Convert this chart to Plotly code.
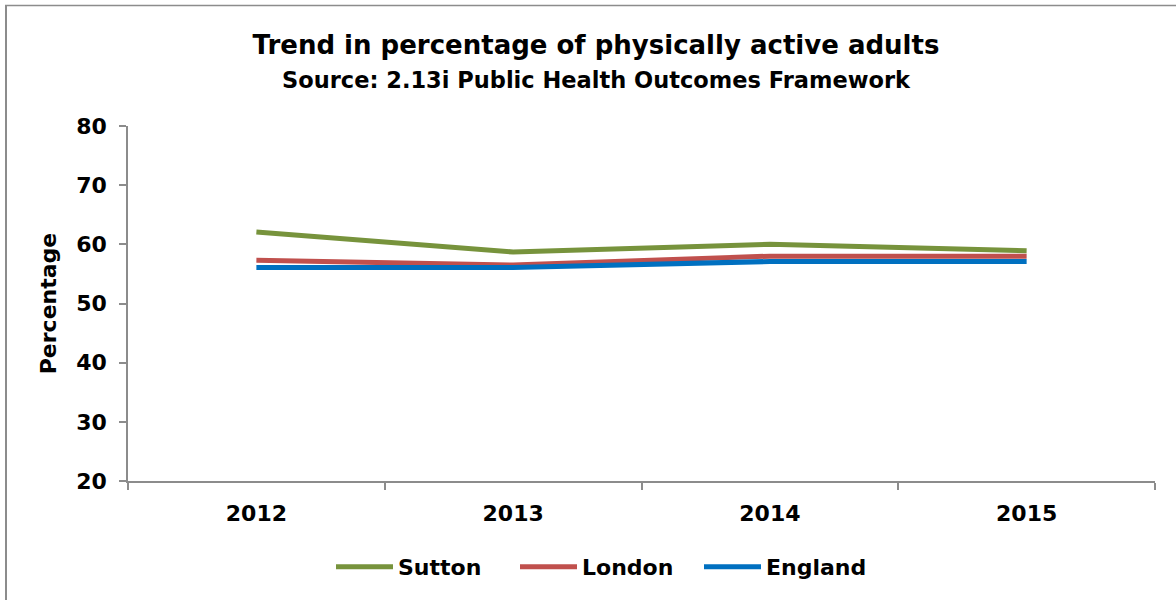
import plotly.graph_objects as go

years = ["2012", "2013", "2014", "2015"]
sutton = [62.1, 58.7, 60.0, 58.9]
london = [57.3, 56.5, 58.0, 58.0]
england = [56.1, 56.1, 57.1, 57.1]

series = [("Sutton", sutton, "#77933C"), ("London", london, "#C0504D"), ("England", england, "#0070C0")]

fig = go.Figure()
for name, vals, col in series:
    fig.add_trace(go.Scatter(x=years, y=vals, name=f"<b>{name}</b>", mode="lines",
                             line=dict(color=col, width=5)))

W, H = 1176, 600
L, R, T, B = 128, 21, 126, 119
pw, ph = W - L - R, H - T - B

def px_x(px):
    return (px - L) / pw

def px_y(py):
    return (H - B - py) / ph

fig.add_shape(type="line", xref="paper", yref="paper",
              x0=px_x(6), x1=px_x(6), y0=px_y(5), y1=px_y(620),
              line=dict(color="#8C8C8C", width=2))
fig.add_shape(type="line", xref="paper", yref="paper",
              x0=px_x(5), x1=px_x(1190), y0=px_y(5.5), y1=px_y(5.5),
              line=dict(color="#8C8C8C", width=1.5))

ff = "DejaVu Sans, Liberation Sans, Arial, sans-serif"
fig.update_layout(
    width=W, height=H,
    margin=dict(l=L, r=R, t=T, b=B, autoexpand=False),
    paper_bgcolor="white", plot_bgcolor="white",
    font=dict(family=ff, color="black"),
    title=dict(
        text="<b>Trend in percentage of physically active adults</b><br><span style='font-size:22.5px'><b>Source: 2.13i Public Health Outcomes Framework</b></span>",
        x=px_x(596), xanchor="center", xref="paper", y=1 - 54 / H, yanchor="top",
        font=dict(size=26, family=ff, color="black"),
    ),
    legend=dict(orientation="h", x=px_x(607), xanchor="center", xref="paper",
                y=px_y(567), yanchor="middle",
                font=dict(size=22, family=ff, color="black"),
                itemwidth=57, entrywidth=112,
                traceorder="normal"),
    showlegend=True,
)
fig.update_xaxes(type="category", range=[-0.5, 3.5], tickson="boundaries",
                 showline=True, linecolor="#8C8C8C", linewidth=1.5,
                 ticks="outside", ticklen=7, tickcolor="#8C8C8C", tickwidth=1.5,
                 showgrid=False, zeroline=False,
                 tickfont=dict(size=22, family=ff, color="black"),
                 ticklabelstandoff=12, tickprefix="<b>", ticksuffix="</b>")
fig.update_yaxes(range=[20, 80], dtick=10, showline=True, linecolor="#8C8C8C", linewidth=1.5,
                 ticks="outside", ticklen=7, tickcolor="#8C8C8C", tickwidth=1.5,
                 showgrid=False, zeroline=False,
                 tickfont=dict(size=22, family=ff, color="black"),
                 ticklabelstandoff=8, tickprefix="<b>", ticksuffix="</b>",
                 title=dict(text="<b>Percentage</b>", font=dict(size=22, family=ff, color="black"),
                            standoff=14))

fig.write_html("out.html", config={"displayModeBar": False},
               post_script="document.body.style.margin='0';document.body.style.padding='0';")
